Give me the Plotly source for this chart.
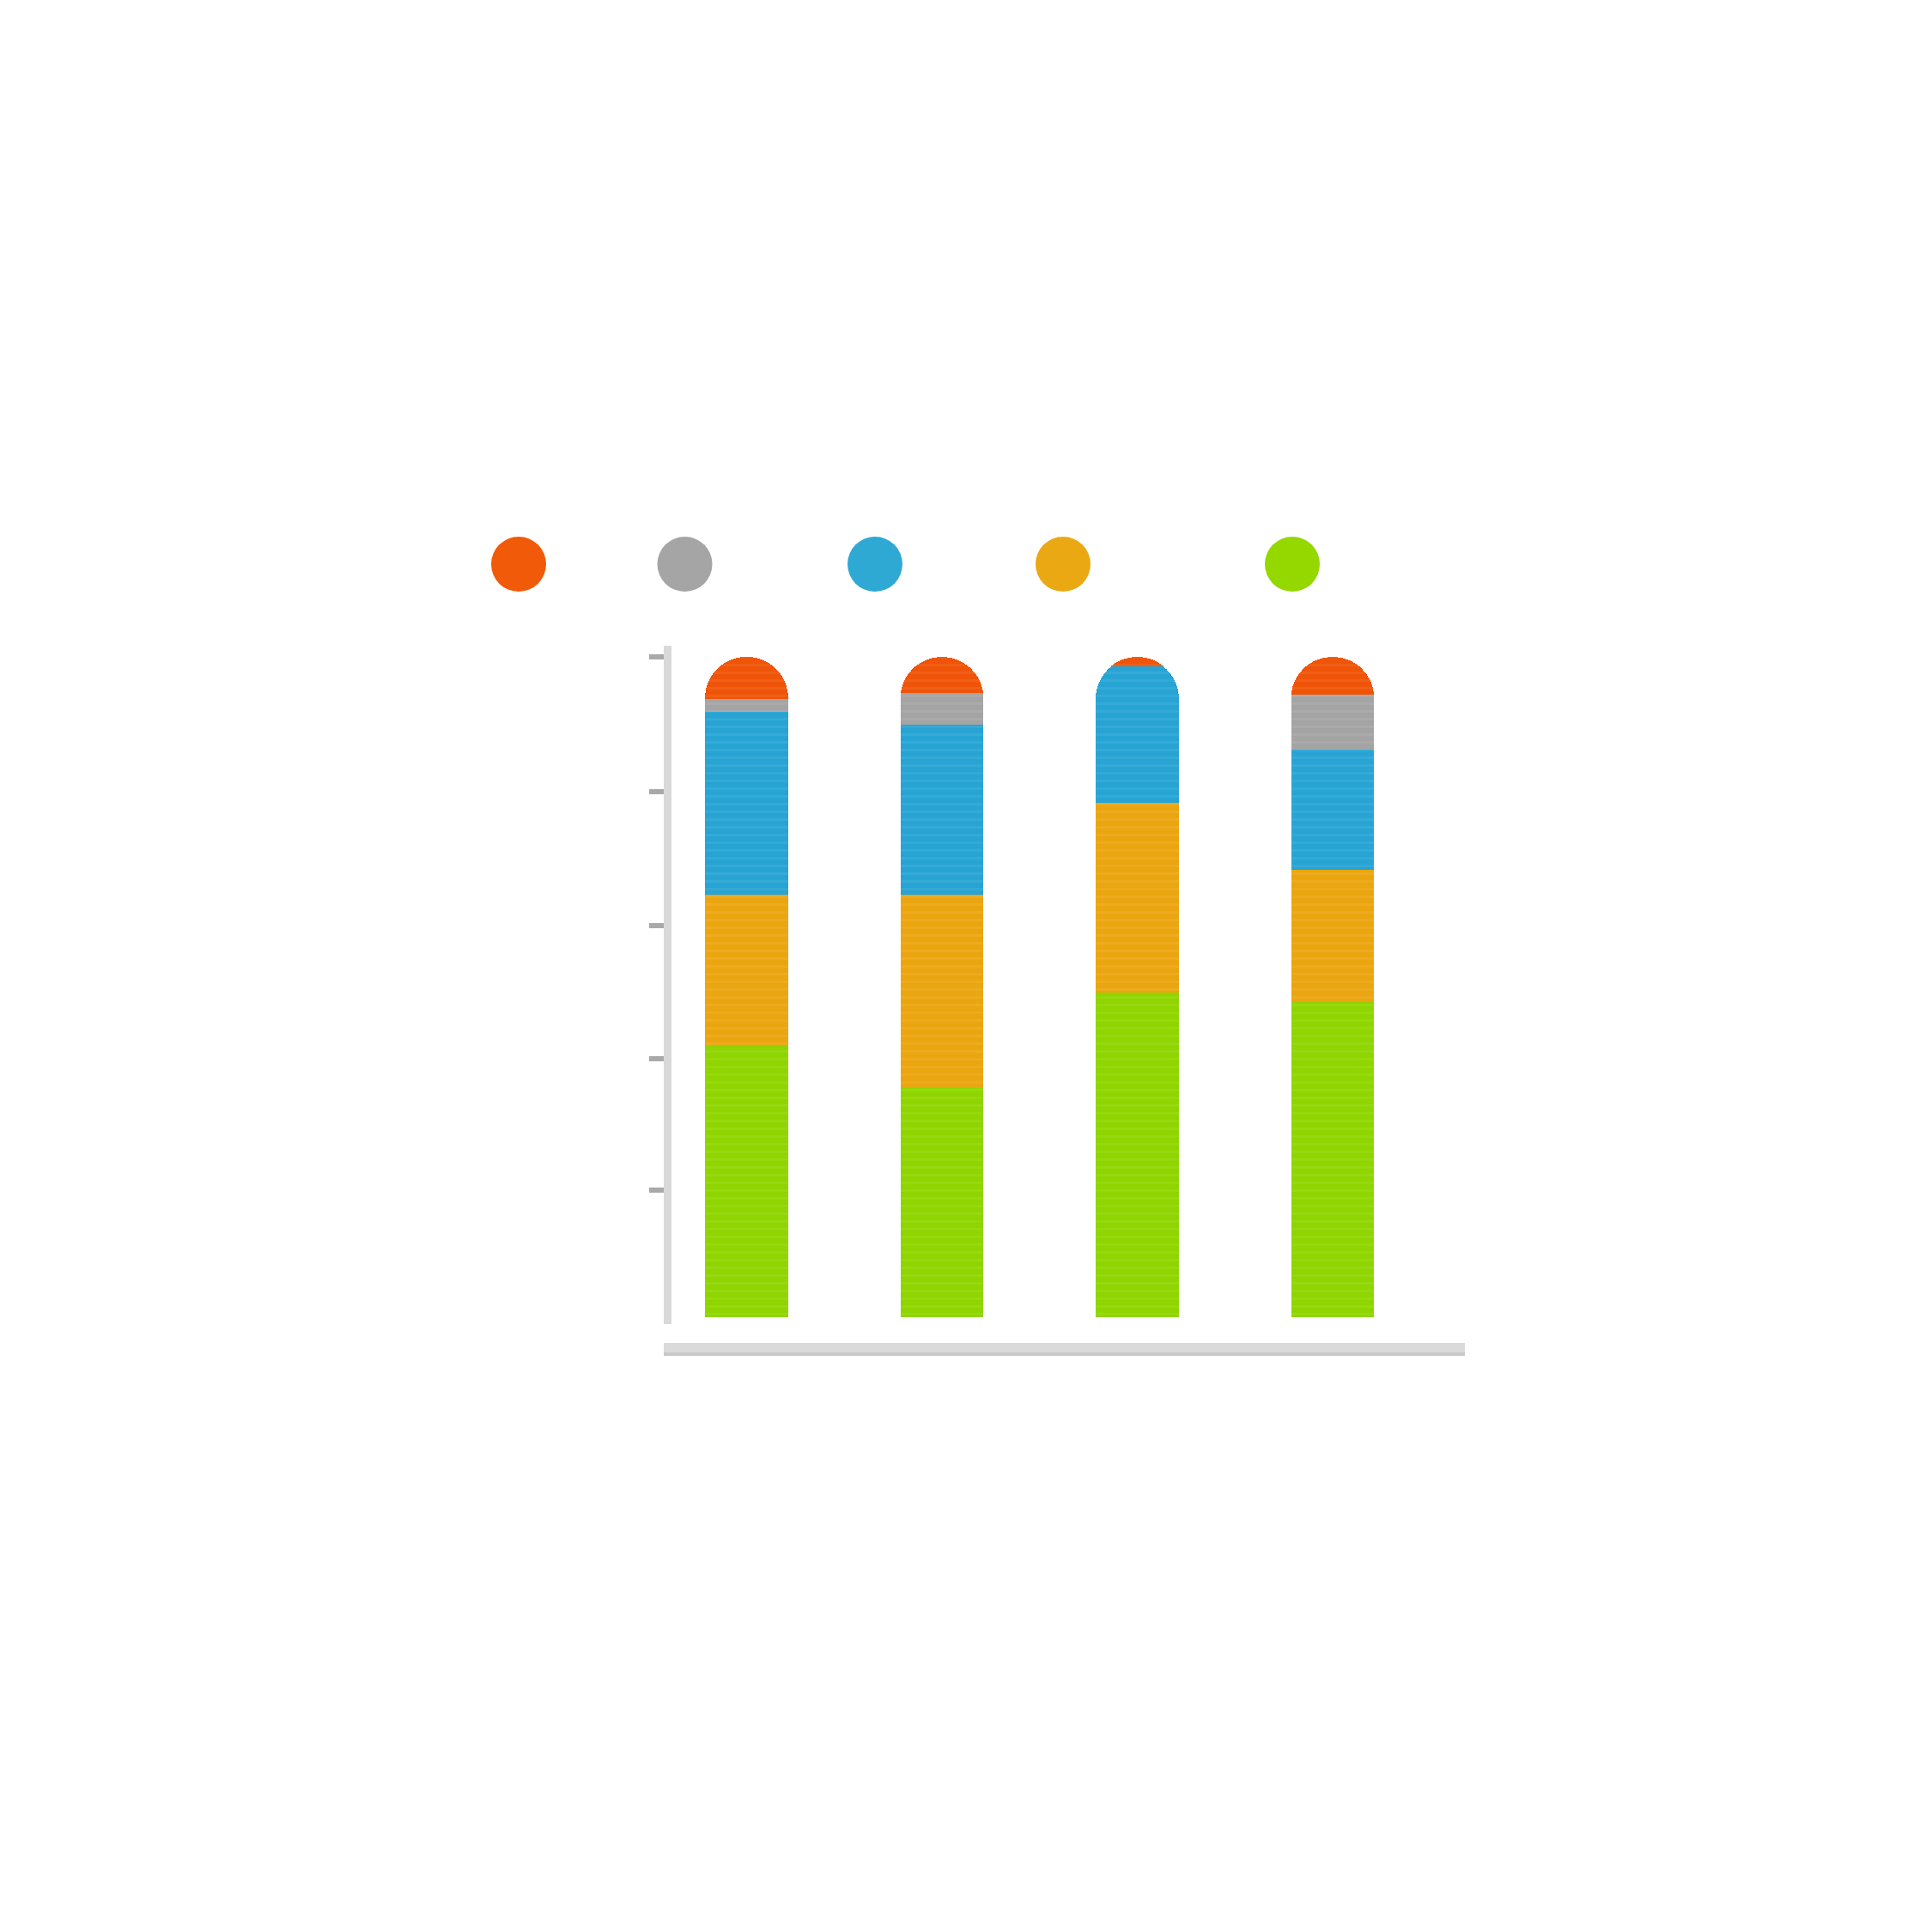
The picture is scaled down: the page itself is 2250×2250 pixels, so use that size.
import plotly.graph_objects as go

# ---- data (percent shares per column) ----
categories = ["A", "B", "C", "D"]
series_names = ["Series 5", "Series 4", "Series 3", "Series 2", "Series 1"]  # bottom -> top
green_vals = [41.2, 34.7, 49.2, 47.9]
yellow_vals = [22.8, 29.3, 28.7, 19.9]
blue_vals = [27.7, 25.7, 20.7, 18.2]
gray_vals = [1.9, 4.8, 0.0, 8.3]
orange_vals = [6.4, 5.5, 1.4, 5.7]
tick_vals = [19.2, 39.1, 59.3, 79.6, 100]

colors = {
    "green": "#8fd500",
    "yellow": "#eba50f",
    "blue": "#27a4d3",
    "gray": "#a4a4a4",
    "orange": "#ef5408",
}
legend_colors = ["#f15a09", "#a5a5a5", "#2ea9d3", "#eaa812", "#94d800"]

# ---- layout geometry (page pixels; page body has an 8px margin) ----
OFF = 8
W = H = 2250
PL, PR, PT, PB = 782, 1706, 752, 1542   # plot area in page pixels
L = PL - OFF
T = PT - OFF
PW = PR - PL
PH = PB - PT
R = W - L - PW
B = H - T - PH

def px_x(x):
    return (x - PL) / PW

def px_y(y):
    return (PB - y) / PH

fig = go.Figure()
stack = [
    (series_names[0], green_vals, colors["green"]),
    (series_names[1], yellow_vals, colors["yellow"]),
    (series_names[2], blue_vals, colors["blue"]),
    (series_names[3], gray_vals, colors["gray"]),
    (series_names[4], orange_vals, colors["orange"]),
]
for name, vals, col in stack:
    fig.add_trace(go.Bar(
        x=list(range(len(categories))),
        y=vals,
        name=name,
        marker=dict(
            color=col,
            line=dict(width=0),
            pattern=dict(shape="-", size=9, solidity=0.3,
                         fgcolor="white", fgopacity=0.07, fillmode="overlay"),
        ),
        showlegend=False,
        hoverinfo="skip",
    ))

shapes = []
# x-axis base bar
shapes.append(dict(type="rect", xref="paper", yref="paper",
                   x0=px_x(773), x1=px_x(1706), y0=px_y(1578), y1=px_y(1564),
                   fillcolor="#dadada", line=dict(width=0), layer="below"))
shapes.append(dict(type="rect", xref="paper", yref="paper",
                   x0=px_x(773), x1=px_x(1706), y0=px_y(1579), y1=px_y(1575),
                   fillcolor="#c8c8c8", line=dict(width=0), layer="below"))
# legend dots
legend_x = [604, 797.5, 1019, 1238, 1505]
legend_y = 657
r = 32
for cx, col in zip(legend_x, legend_colors):
    shapes.append(dict(type="circle", xref="paper", yref="paper",
                       x0=px_x(cx - r), x1=px_x(cx + r),
                       y0=px_y(legend_y + r), y1=px_y(legend_y - r),
                       fillcolor=col, line=dict(width=0)))

fig.update_layout(
    width=W, height=H,
    margin=dict(l=L, r=R, t=T, b=B, pad=0),
    paper_bgcolor="white", plot_bgcolor="white",
    barmode="stack",
    bargap=0.574,
    barcornerradius="50%",
    showlegend=False,
    shapes=shapes,
    xaxis=dict(range=[-0.3846, 3.677], showline=False, showgrid=False,
               zeroline=False, showticklabels=False, ticks=""),
    yaxis=dict(range=[-1.04, 101.69], showline=True, linewidth=9,
               linecolor="#d9d9d9", showgrid=False, zeroline=False,
               showticklabels=False, ticks="outside", ticklen=17, tickwidth=6,
               tickcolor="#a9a9a9", tickvals=tick_vals),
)

fig.write_html("out.html")
